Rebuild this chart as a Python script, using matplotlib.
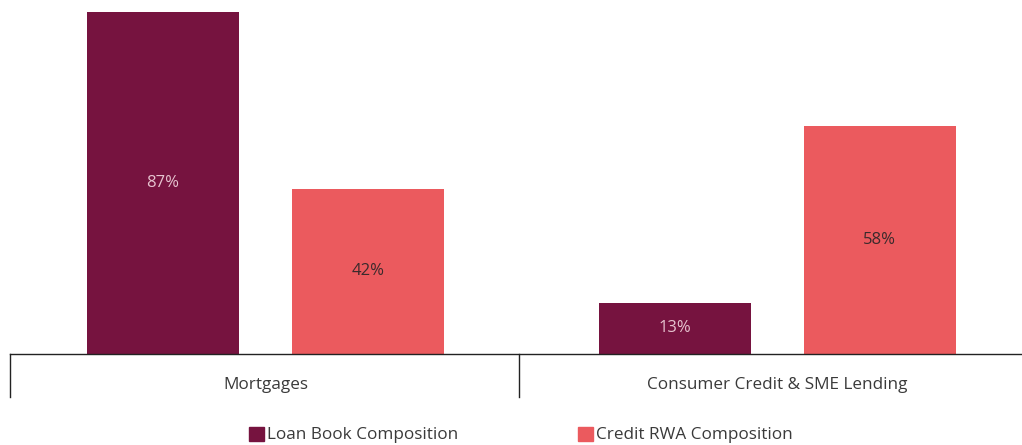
import numpy as np
import matplotlib.pyplot as plt
from matplotlib.patches import Patch
import matplotlib.transforms as mtransforms

plt.rcParams['font.family'] = ['Open Sans', 'DejaVu Sans']

categories = ['Mortgages', 'Consumer Credit & SME Lending']
series_names = ['Loan Book Composition', 'Credit RWA Composition']
loan_book = [87, 13]
credit_rwa = [42, 58]

col_loan = '#76133F'
col_rwa = '#EB5A5E'

fig = plt.figure(figsize=(10.22, 4.45), dpi=100)
# axis runs a little past the right edge of the figure
ax = fig.add_axes([9.5 / 1022, 91 / 445, 1024 / 1022, 354 / 445])

x = np.arange(len(categories))
w = 0.297
b1 = ax.bar(x - 0.2, loan_book, w, color=col_loan)
b2 = ax.bar(x + 0.2, credit_rwa, w, color=col_rwa)

for bars, vals, tc in [(b1, loan_book, '#E6C3CF'), (b2, credit_rwa, '#3A2A2C')]:
    for r, v in zip(bars, vals):
        ax.text(r.get_x() + r.get_width() / 2, v / 2, f'{v}%', ha='center', va='center',
                fontsize=12, color=tc)

ax.set_xlim(-0.5, 1.5)
ax.set_ylim(0, 90)
ax.set_yticks([])
ax.set_xticks([])
for s in ['top', 'right', 'left']:
    ax.spines[s].set_visible(False)
ax.spines['bottom'].set_color('#222222')
ax.spines['bottom'].set_linewidth(1.0)

# group dividers under the axis
trans = mtransforms.blended_transform_factory(ax.transData, ax.transAxes)
for xd in [-0.5, 0.496, 1.5]:
    ax.plot([xd, xd], [0, -43 / 354], transform=trans, color='#222222', lw=1.0, clip_on=False)
for xi, c in zip(x, categories):
    ax.text(xi, -31 / 354, c, transform=trans, ha='center', va='center',
            fontsize=12.3, color='#3A3A3A')

handles = [Patch(color=col_loan), Patch(color=col_rwa)]
fig.legend(handles, series_names, loc='center', bbox_to_anchor=(521 / 1022, 10 / 445), ncol=2,
           frameon=False, fontsize=12.3, handlelength=0.88, handleheight=0.88,
           handletextpad=0.2, columnspacing=7.0, labelcolor='#3A3A3A')

fig.savefig('out.png', dpi=100)
